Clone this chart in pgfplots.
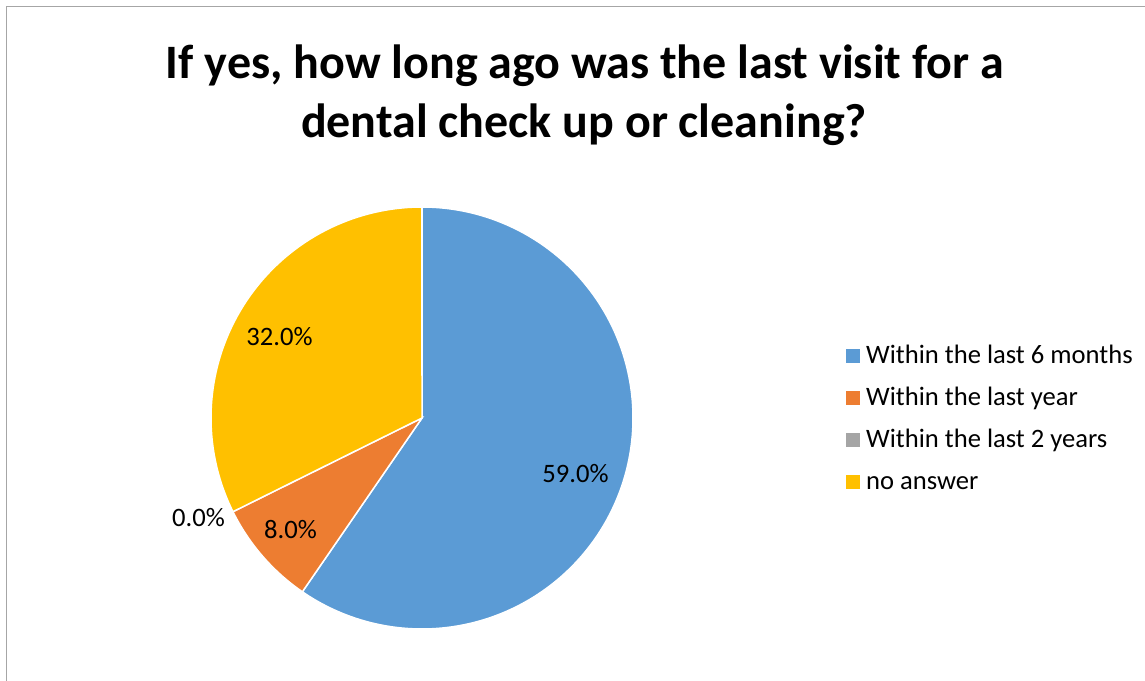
\documentclass[border=0pt]{standalone}
\usepackage{fontspec}
\setmainfont{Carlito}
\usepackage{pgfplots}
\usepackage{pgfplotstable}
\pgfplotsset{compat=1.18}
\definecolor{cblue}{HTML}{5B9BD5}
\definecolor{corange}{HTML}{ED7D31}
\definecolor{cgray}{HTML}{A5A5A5}
\definecolor{cyellow}{HTML}{FFC000}
\definecolor{framec}{HTML}{A6A6A6}

\pgfplotstableread{
idx value
0 59
1 8
2 0
3 32
}\piedata
\pgfplotstablegetelem{0}{value}\of\piedata \let\vA\pgfplotsretval
\pgfplotstablegetelem{1}{value}\of\piedata \let\vB\pgfplotsretval
\pgfplotstablegetelem{2}{value}\of\piedata \let\vC\pgfplotsretval
\pgfplotstablegetelem{3}{value}\of\piedata \let\vD\pgfplotsretval
\pgfmathsetmacro\total{\vA+\vB+\vC+\vD}
\pgfmathsetmacro\aZero{90}
\pgfmathsetmacro\aOne{90-\vA/\total*360}
\pgfmathsetmacro\aTwo{\aOne-\vB/\total*360}
\pgfmathsetmacro\aThree{\aTwo-\vC/\total*360}
\pgfmathsetmacro\aFour{\aThree-\vD/\total*360}

\newcommand{\lblfont}{\fontsize{26.6bp}{32bp}\selectfont}

\begin{document}
\begin{tikzpicture}[x=1bp,y=1bp]
\path[use as bounding box] (0,0) rectangle (1145,681);
\draw[framec, line width=1.2bp] (6.5,0) -- (6.5,674.5) -- (1145,674.5);
\node[anchor=base, font=\fontsize{48bp}{57bp}\selectfont\bfseries, inner sep=0pt] at (585,602) {If yes, how long ago was the last visit for a};
\node[anchor=base, font=\fontsize{48bp}{57bp}\selectfont\bfseries, inner sep=0pt] at (584,543) {dental check up or cleaning?};
\begin{axis}[
  at={(211bp,52bp)}, anchor=south west,
  scale only axis, width=422bp, height=422bp,
  xmin=-1, xmax=1, ymin=-1, ymax=1,
  hide axis, clip=false,
  legend image code/.code={\fill[#1, draw=none] (0bp,0bp) rectangle (14bp,14bp);},
  legend style={at={(1.5047,0.677)}, anchor=north west, draw=none, fill=none,
    inner sep=0pt, row sep=16bp, column sep=6bp,
    nodes={inner sep=0pt, text height=20bp, text depth=6bp, anchor=base west},
    font=\lblfont},
]
\addplot[fill=cblue, draw=white, line width=1.5bp, domain=\aOne:\aZero, samples=200] ({cos(x)},{sin(x)}) -- (axis cs:0,0) -- cycle;
\addlegendentry{Within the last 6 months}
\addplot[fill=corange, draw=white, line width=1.5bp, domain=\aTwo:\aOne, samples=60] ({cos(x)},{sin(x)}) -- (axis cs:0,0) -- cycle;
\addlegendentry{Within the last year}
\addlegendimage{fill=cgray, draw=none}
\addlegendentry{Within the last 2 years}
\addplot[fill=cyellow, draw=white, line width=1.5bp, domain=\aFour:\aThree, samples=150] ({cos(x)},{sin(x)}) -- (axis cs:0,0) -- cycle;
\addlegendentry{no answer}
\node[font=\lblfont, inner sep=0pt] at (axis cs:0.7275,-0.2654) {59.0\%};
\node[font=\lblfont, inner sep=0pt] at (axis cs:-0.6232,-0.5308) {8.0\%};
\node[font=\lblfont, inner sep=0pt] at (axis cs:-1.0592,-0.4739) {0.0\%};
\node[font=\lblfont, inner sep=0pt] at (axis cs:-0.6754,0.3839) {32.0\%};
\end{axis}
\end{tikzpicture}
\end{document}
